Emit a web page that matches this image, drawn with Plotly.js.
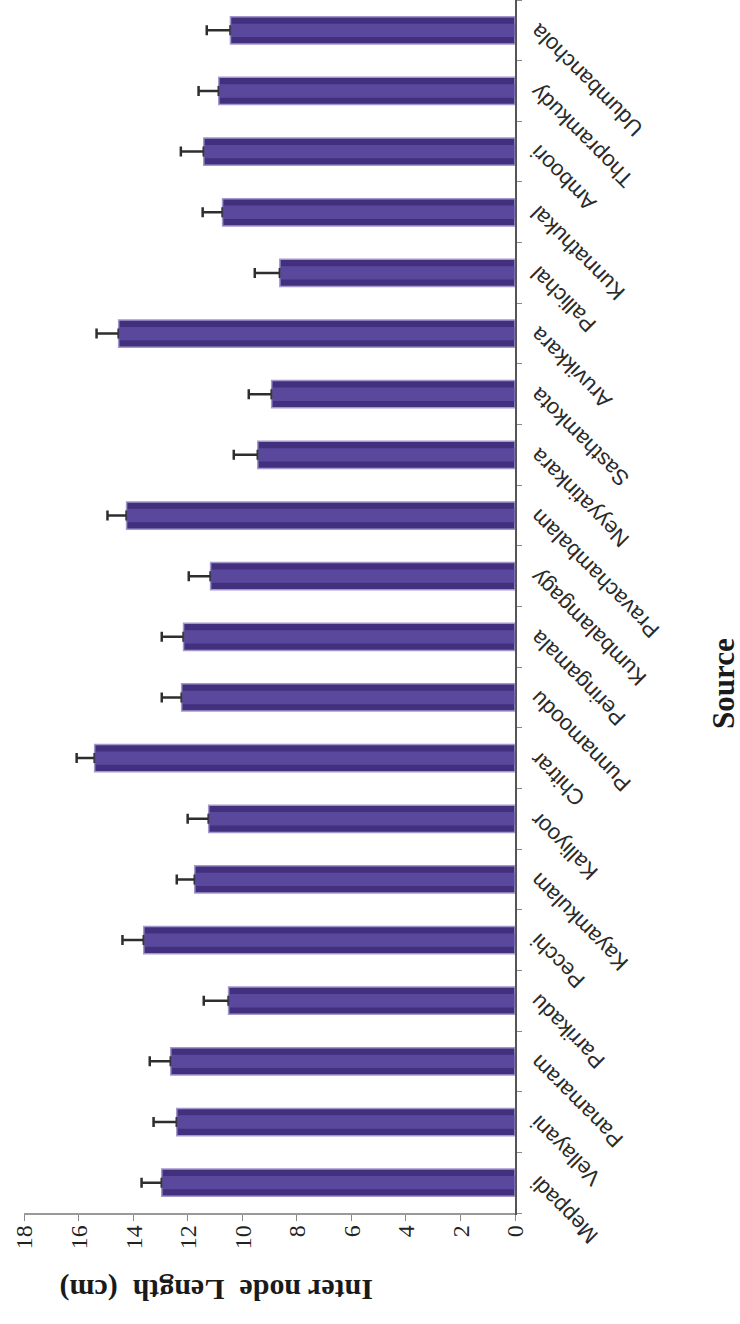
<!DOCTYPE html>
<html>
<head>
<meta charset="utf-8">
<script src="https://cdn.plot.ly/plotly-3.0.1.min.js"></script>
<style>
  html, body { margin: 0; padding: 0; width: 740px; height: 1324px; overflow: hidden; background: #ffffff; }
  #chart { position: absolute; left: 0; top: 0; width: 1324px; height: 740px; transform-origin: 0 0; }
</style>
</head>
<body>
<div id="chart"></div>
<script>
// Internode length (cm) of accessions by source location, mean with standard error
const sources = [
  "Meppadi", "Vellayani", "Panamaram", "Parrikadu", "Pecchi",
  "Kayamkulam", "Kalliyoor", "Chitrar", "Punnamoodu", "Peringamala",
  "Kumbalamgagy", "Pravachambalam", "Neyyatinkara", "Sasthamkota", "Aruvikkara",
  "Pallichal", "Kunnathukal", "Amboori", "Thopramkudy", "Udumbanchola"
];
const internodeLength = [
  12.95, 12.40, 12.62, 10.50, 13.61,
  11.74, 11.23, 15.41, 12.22, 12.15,
  11.16, 14.24, 9.43, 8.92, 14.53,
  8.62, 10.72, 11.41, 10.86, 10.43
];
const stdError = [
  0.74, 0.85, 0.77, 0.91, 0.78,
  0.66, 0.77, 0.66, 0.73, 0.80,
  0.80, 0.70, 0.88, 0.84, 0.81,
  0.92, 0.73, 0.84, 0.74, 0.87
];
const valueTicks = [0, 2, 4, 6, 8, 10, 12, 14, 16, 18];

const W = 1324, H = 740;
const M = { l: 111, r: 0, t: 24, b: 225 };
const plotW = W - M.l - M.r, plotH = H - M.t - M.b;
// pixel position -> paper coordinates
const px = x => (x - M.l) / plotW;
const py = y => (H - M.b - y) / plotH;

const barTrace = {
  type: "bar",
  x: sources,
  y: internodeLength,
  width: 0.45,
  marker: { color: "#42307e", line: { color: "#a398cc", width: 1.5 } },
  error_y: {
    type: "data",
    symmetric: false,
    array: stdError,
    arrayminus: stdError.map(() => 0),
    color: "#2e2e2e",
    thickness: 2.5,
    width: 5
  },
  hoverinfo: "x+y"
};

// lighter core stripe for a shaded bar look
const shineTrace = {
  type: "bar",
  x: sources,
  y: internodeLength,
  width: 0.22,
  marker: { color: "rgba(112,92,182,0.55)", line: { width: 0 } },
  hoverinfo: "skip"
};

const layout = {
  width: W,
  height: H,
  margin: M,
  barmode: "overlay",
  showlegend: false,
  paper_bgcolor: "#ffffff",
  plot_bgcolor: "#ffffff",
  xaxis: {
    type: "category",
    range: [-0.5, sources.length - 0.5],
    showline: true,
    linecolor: "#555555",
    linewidth: 1.5,
    ticks: "outside",
    tickson: "boundaries",
    ticklen: 5,
    tickcolor: "#888888",
    tickangle: -45,
    tickfont: { family: "Liberation Sans, Arial, sans-serif", size: 22, color: "#2a2a2a" },
    showgrid: false,
    zeroline: false
  },
  yaxis: {
    range: [0, 18],
    tickvals: valueTicks,
    ticktext: valueTicks.map(String),
    showline: true,
    linecolor: "#999999",
    linewidth: 1.5,
    ticks: "outside",
    ticklen: 6,
    tickcolor: "#888888",
    tickfont: { family: "Liberation Serif, Times New Roman, serif", size: 24, color: "#222222" },
    showgrid: false,
    zeroline: false
  },
  annotations: [
    {
      text: "Inter node  Length  (cm)",
      xref: "paper", yref: "paper",
      x: px(34), y: py(216),
      xanchor: "center", yanchor: "middle",
      textangle: -90,
      showarrow: false,
      font: { family: "Liberation Serif, Times New Roman, serif", size: 30, color: "#1a1a1a", weight: "bold" }
    },
    {
      text: "Source",
      xref: "paper", yref: "paper",
      x: px(640), y: py(723),
      xanchor: "center", yanchor: "middle",
      showarrow: false,
      font: { family: "Liberation Serif, Times New Roman, serif", size: 31, color: "#1a1a1a", weight: "bold" }
    }
  ]
};

const el = document.getElementById("chart");
Plotly.newPlot(el, [barTrace, shineTrace], layout, { staticPlot: true, displayModeBar: false })
  .then(() => {
    // turn the finished chart a quarter turn counter-clockwise to fill the tall page
    el.style.transform = "translateY(" + W + "px) rotate(-90deg)";
  });
</script>
</body>
</html>
